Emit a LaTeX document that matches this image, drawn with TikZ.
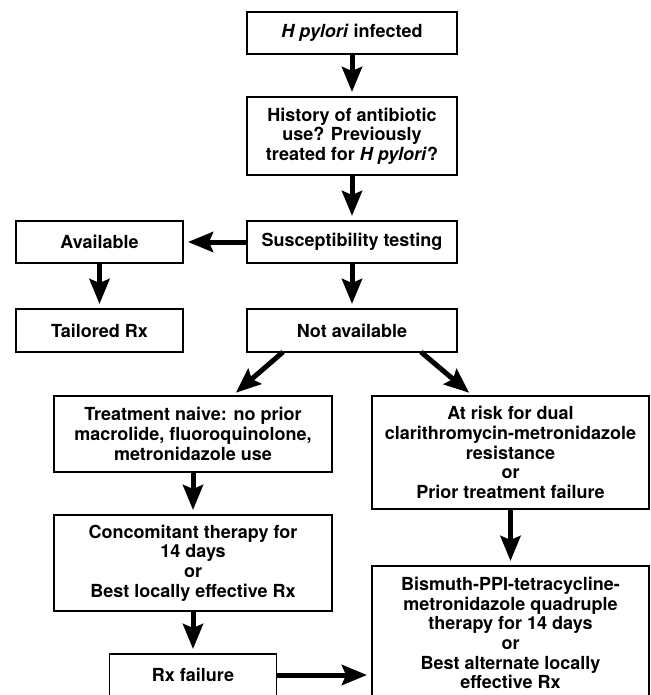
\documentclass[tikz,border=0pt]{standalone}
\usepackage{fontspec}
\setmainfont{TeX Gyre Heros}
\usetikzlibrary{arrows.meta}

\tikzset{
    box/.style={draw, line width=1.8pt, align=center, inner sep=0pt, outer sep=0pt,
        font=\bfseries\fontsize{18}{19.7}\selectfont},
    arr/.style={-{Stealth[length=25pt,width=20pt,inset=4pt]}, line width=5pt, shorten >=5pt}
}

\begin{document}
\begin{tikzpicture}[x=1pt, y=-1pt]
    \useasboundingbox (0,0) rectangle (650,695);
    \clip (0,0) rectangle (650,695);

    % Main column
    \node[box, minimum width=210pt, minimum height=42pt] (infected) at (352,33) {\textit{H pylori} infected};
    \node[box, minimum width=210pt, minimum height=78pt] (history) at (352,136) {History of antibiotic\\use? Previously\\treated for \textit{H pylori}?};
    \node[box, minimum width=210pt, minimum height=42pt] (testing) at (352,242) {Susceptibility testing};
    \node[box, minimum width=210pt, minimum height=43pt] (notavail) at (352,330.5) {Not available};

    % Left branch
    \node[box, minimum width=167pt, minimum height=42pt] (avail) at (99.5,242) {Available};
    \node[box, minimum width=167pt, minimum height=43pt] (tailored) at (99.5,330.5) {Tailored Rx};

    % Empirical therapy
    \node[box, minimum width=278pt, minimum height=76pt] (naive) at (193,434) {Treatment naive: no prior\\macrolide, fluoroquinolone,\\metronidazole use};
    \node[box, minimum width=278pt, minimum height=96pt] (concom) at (193,563) {Concomitant therapy for\\14 days\\or\\Best locally effective Rx};
    \node[box, minimum width=167pt, minimum height=42pt] (rxfail) at (193,675) {Rx failure};

    \node[box, minimum width=277pt, minimum height=113pt] (atrisk) at (510.5,452.5) {At risk for dual\\clarithromycin-metronidazole\\resistance\\or\\Prior treatment failure};
    \node[box, minimum width=277pt, minimum height=134pt] (bismuth) at (510.5,633) {Bismuth-PPI-tetracycline-\\metronidazole quadruple\\therapy for 14 days\\or\\Best alternate locally\\effective Rx};

    % Arrows
    \draw[arr] (infected) -- (history);
    \draw[arr] (history) -- (testing);
    \draw[arr] (testing) -- (avail);
    \draw[arr] (avail) -- (tailored);
    \draw[arr] (testing) -- (notavail);
    \draw[arr] ([xshift=-69pt]notavail.south) -- ([xshift=39pt]naive.north);
    \draw[arr] ([xshift=69pt]notavail.south) -- ([xshift=-37.5pt]atrisk.north);
    \draw[arr] (naive) -- (concom);
    \draw[arr] (concom) -- (rxfail);
    \draw[arr] (atrisk) -- (bismuth);
    \draw[arr] (rxfail) -- (rxfail -| bismuth.west);
\end{tikzpicture}
\end{document}
